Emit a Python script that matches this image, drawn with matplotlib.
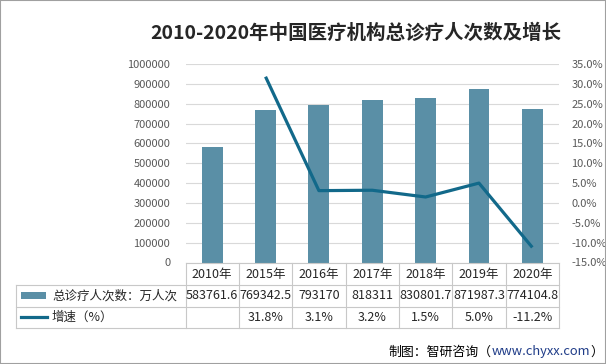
import matplotlib
matplotlib.use("Agg")
import matplotlib.pyplot as plt
import numpy as np
from matplotlib.patches import Rectangle
from matplotlib.lines import Line2D

plt.rcParams['font.family'] = ['Noto Sans CJK SC', 'DejaVu Sans']

# ---------------- data ----------------
years = ["2010年", "2015年", "2016年", "2017年", "2018年", "2019年", "2020年"]
visits = [583761.6, 769342.5, 793170, 818311, 830801.7, 871987.3, 774104.8]
visit_labels = ["583761.6", "769342.5", "793170", "818311", "830801.7", "871987.3", "774104.8"]
growth = [np.nan, 31.8, 3.1, 3.2, 1.5, 5.0, -11.2]
growth_labels = ["", "31.8%", "3.1%", "3.2%", "1.5%", "5.0%", "-11.2%"]
series_names = ["总诊疗人次数：万人次", "增速（%）"]
title = "2010-2020年中国医疗机构总诊疗人次数及增长"

left_ticks = list(range(0, 1000001, 100000))
right_ticks = list(range(-15, 36, 5))

bar_color = "#5A8FA6"
line_color = "#12698A"
grid_color = "#D9D9D9"
tick_color = "#595959"
border_color = "#C8C8C8"

W, H = 606, 364
fig = plt.figure(figsize=(W / 100, H / 100), dpi=100)

def fx(px):
    return px / W

def fy(py):
    return 1 - py / H

# plot area (pixels)
pl, pr, pt, pb = 185.5, 559, 64, 262.5
ax = fig.add_axes([fx(pl), fy(pb), fx(pr - pl), (pb - pt) / H])
n = len(years)
x = np.arange(n)
ax.bar(x, visits, width=0.39, color=bar_color, zorder=2)
ax.set_xlim(-0.5, n - 0.5)
ax.set_ylim(0, 1000000)
ax.set_yticks(left_ticks)
ax.set_yticklabels([str(t) for t in left_ticks])
ax.set_xticks([])
ax.grid(axis='y', color=grid_color, linewidth=0.8, zorder=0)
for s in ax.spines.values():
    s.set_visible(False)
ax.tick_params(axis='y', length=0, pad=11, labelsize=8, labelcolor=tick_color)

ax2 = ax.twinx()
ax2.plot(x, growth, color=line_color, linewidth=2.3, solid_capstyle='butt', zorder=3)
ax2.set_ylim(-15, 35)
ax2.set_yticks(right_ticks)
ax2.set_yticklabels([f"{t:.1f}%" for t in right_ticks])
for s in ax2.spines.values():
    s.set_visible(False)
ax2.tick_params(axis='y', length=0, pad=9, labelsize=8, labelcolor=tick_color)

# ---------------- data table ----------------
tl = 16
colw = (pr - pl) / n
rows_y = [263.3, 284.8, 306.8, 328.3]
tbl = fig.add_axes([0, 0, 1, 1], facecolor='none')
tbl.set_xlim(0, W)
tbl.set_ylim(H, 0)
tbl.axis('off')

def hline(x0, x1, y):
    tbl.add_line(Line2D([x0, x1], [y, y], color=border_color, linewidth=0.8))

def vline(xx, y0, y1):
    tbl.add_line(Line2D([xx, xx], [y0, y1], color=border_color, linewidth=0.8))

hline(pl, pr, rows_y[0])
for yy in rows_y[1:]:
    hline(tl, pr, yy)
for i in range(n + 1):
    vline(pl + i * colw, rows_y[0], rows_y[3])
vline(tl, rows_y[1], rows_y[3])

cell_font = dict(fontsize=9, color="#262626", ha='center', va='center')
for i in range(n):
    cx = pl + (i + 0.5) * colw
    tbl.text(cx, (rows_y[0] + rows_y[1]) / 2, years[i], **cell_font)
    tbl.text(cx, (rows_y[1] + rows_y[2]) / 2, visit_labels[i], **cell_font)
    tbl.text(cx, (rows_y[2] + rows_y[3]) / 2, growth_labels[i], **cell_font)

# legend keys in table
tbl.add_patch(Rectangle((21, 292.3), 25, 6.3, facecolor=bar_color, edgecolor='none'))
tbl.add_line(Line2D([20.5, 47], [316.8, 316.8], color=line_color, linewidth=2.3))
tbl.text(52, (rows_y[1] + rows_y[2]) / 2, series_names[0], fontsize=9, color="#262626",
         ha='left', va='center')
tbl.text(52, (rows_y[2] + rows_y[3]) / 2, series_names[1], fontsize=9, color="#262626",
         ha='left', va='center')

# ---------------- title ----------------
fig.text(fx(356), fy(33), title, fontsize=14, fontweight='bold', color="#262626",
         ha='center', va='center')

# ---------------- footer ----------------
renderer = fig.canvas.get_renderer()
parts = [("制图：智研咨询（", "#000000"), ("www.chyxx.com", "#1F3C88"), ("）", "#000000")]
xr = 603
for txt, col in reversed(parts):
    t = tbl.text(xr, 352, txt, fontsize=9.3, color=col, ha='right', va='center')
    bb = t.get_window_extent(renderer=renderer)
    xr -= bb.width

# frame
fig.patches.append(Rectangle((0, 0), 1, 1, transform=fig.transFigure, fill=False,
                             edgecolor="#A0A0A0", linewidth=1.5))

fig.savefig("out.png", dpi=100)
